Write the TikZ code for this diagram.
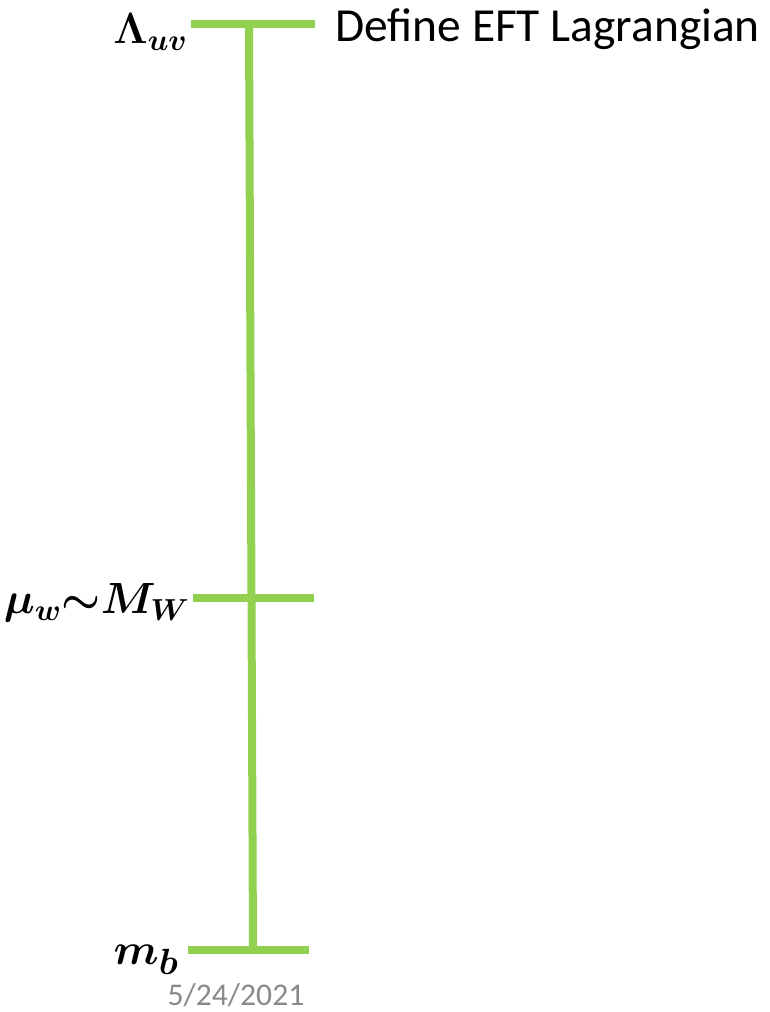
\documentclass[tikz,border=0pt]{standalone}
\usepackage{amsmath}
\usepackage{bm}
\usepackage{fontspec}
\setmainfont{Carlito}
\usetikzlibrary{positioning}
\definecolor{scalegreen}{RGB}{146,208,80}
\definecolor{dategray}{RGB}{137,137,137}

\begin{document}
\begin{tikzpicture}[x=0.02cm, y=-0.02cm,
  tick/.style={line width=0.16cm, color=scalegreen},
  scalelabel/.style={anchor=east, inner sep=0pt, font=\fontsize{27}{32}\selectfont},
  note/.style={anchor=west, inner sep=0pt, font=\fontsize{27}{32}\selectfont}]
  \useasboundingbox (0,0) rectangle (770,1012);

  % Scale ticks (pixel coordinates, y downward)
  \coordinate (uvL) at (191,24);  \coordinate (uvR) at (315,24);
  \coordinate (uvC) at (249,24);
  \coordinate (wL) at (193,598);  \coordinate (wR) at (314,598);
  \coordinate (bL) at (188,950);  \coordinate (bR) at (309,950);
  \coordinate (bC) at (253,950);

  % Vertical axis
  \draw[tick] (uvC) -- (bC);

  % Horizontal ticks
  \draw[tick] (uvL) -- (uvR);
  \draw[tick] (wL) -- (wR);
  \draw[tick] (bL) -- (bR);

  % Labels
  \node[scalelabel] (uvlab) at (188,32) {$\bm{\Lambda_{uv}}$};
  \node[scalelabel, font=\fontsize{24}{28}\selectfont] (wlab) at (190,603)
    {$\bm{\mu_w{\sim}M_W}$};
  \node[scalelabel, font=\fontsize{28}{33}\selectfont] (blab) at (179,960)
    {$\bm{m_b}$};
  \node[note] (eft) at (335,29) {Define EFT Lagrangian};
  \node[font=\fontsize{18}{22}\selectfont, color=dategray, inner sep=0pt]
    (date) at (236,995) {5/24/2021};
\end{tikzpicture}
\end{document}
